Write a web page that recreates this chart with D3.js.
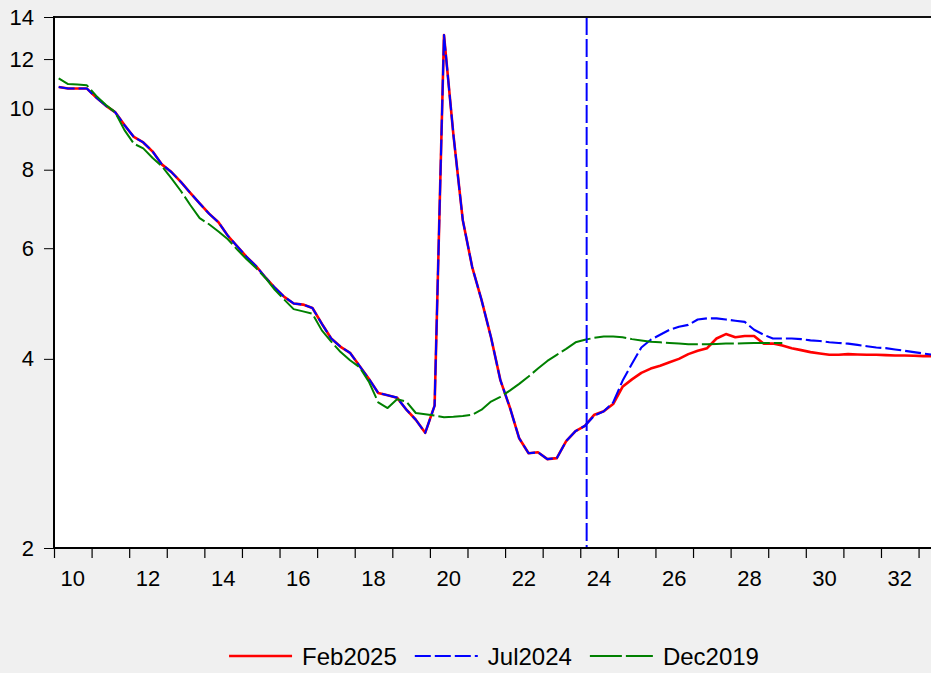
<!DOCTYPE html>
<html><head><meta charset="utf-8">
<script src="https://cdn.jsdelivr.net/npm/d3@7"></script>
<style>
html,body{margin:0;padding:0;background:#f0f0f0;}
svg{display:block;}
text{font-family: Arial, "Liberation Sans", sans-serif; fill:#000;}
</style></head><body>
<svg id="chart" width="931" height="673"></svg>
<script>
// ---------- DATA (quarterly, first observation 2010Q1) ----------
const startYear = 2010;
// common history through 2024Q1
const historyValues = [
  10.83, 10.77, 10.77, 10.77,
  10.42, 10.12, 9.88, 9.42,
  9.02, 8.84, 8.55, 8.15,
  7.93, 7.65, 7.35, 7.07,
  6.81, 6.60, 6.28, 6.04,
  5.81, 5.62, 5.39, 5.19,
  5.02, 4.90, 4.88, 4.82,
  4.55, 4.31, 4.18, 4.09,
  3.90, 3.72, 3.53, 3.50,
  3.47, 3.32, 3.20, 3.05,
  3.37, 13.1, 9.1, 6.65,
  5.60, 4.96, 4.33, 3.70,
  3.35, 2.99, 2.83, 2.84,
  2.77, 2.78, 2.96, 3.07,
  3.13
];
// from 2024Q2
const feb2025Forecast = [
  3.26, 3.30, 3.39,
  3.61, 3.71, 3.80, 3.86,
  3.90, 3.95, 4.00, 4.07,
  4.12, 4.16, 4.31, 4.38,
  4.33, 4.35, 4.35, 4.23,
  4.23, 4.20, 4.16, 4.13,
  4.10, 4.08, 4.06, 4.06,
  4.07, 4.065, 4.06, 4.06,
  4.055, 4.05, 4.05, 4.045,
  4.04, 4.04
];
const jul2024Forecast = [
  3.25, 3.30, 3.41,
  3.69, 3.93, 4.17, 4.29,
  4.37, 4.45, 4.50, 4.53,
  4.62, 4.64, 4.64, 4.62,
  4.60, 4.58, 4.45, 4.37,
  4.31, 4.31, 4.31, 4.30,
  4.28, 4.27, 4.25, 4.24,
  4.23, 4.21, 4.19, 4.17,
  4.16, 4.14, 4.12, 4.10,
  4.08, 4.06
];
// Dec2019 vintage, 2010Q1 .. 2029Q2
const dec2019 = [
  11.18, 10.95, 10.93, 10.90,
  10.48, 10.15, 9.88, 9.25,
  8.80, 8.65, 8.35, 8.10,
  7.75, 7.40, 7.03, 6.70,
  6.55, 6.38, 6.20, 5.97,
  5.76, 5.58, 5.38, 5.15,
  4.97, 4.80, 4.76, 4.72,
  4.44, 4.26, 4.10, 3.98,
  3.88, 3.68, 3.41, 3.34,
  3.45, 3.42, 3.28, 3.265,
  3.25, 3.23, 3.235, 3.245,
  3.26, 3.32, 3.42, 3.48,
  3.56, 3.65, 3.75, 3.86,
  3.97, 4.06, 4.15, 4.25,
  4.29, 4.32, 4.34, 4.34,
  4.33, 4.30, 4.28, 4.26,
  4.25, 4.24, 4.23, 4.22,
  4.22, 4.22, 4.225, 4.23,
  4.23, 4.235, 4.24, 4.24,
  4.24, 4.24
];
const feb2025 = historyValues.concat(feb2025Forecast);
const jul2024 = historyValues.concat(jul2024Forecast);
const seriesNames = ["Feb2025", "Jul2024", "Dec2019"];
const yTickValues = [2, 4, 6, 8, 10, 12, 14];
const xTickYears = d3.range(2010, 2035);
const xLabelYears = [2010, 2012, 2014, 2016, 2018, 2020, 2022, 2024, 2026, 2028, 2030, 2032];
const markerDate = 2024.17;

// ---------- LAYOUT ----------
const svg = d3.select("#chart");
const W = 931, H = 673;
const pLeft = 54, pTop = 17, pBottom = 548;
const yearPx = 37.59;
const pRight = pLeft + 24 * yearPx;

svg.append("rect").attr("width", W).attr("height", H).attr("fill", "#f0f0f0");
svg.append("rect").attr("x", pLeft).attr("y", pTop).attr("width", pRight - pLeft).attr("height", pBottom - pTop).attr("fill", "#fff");

const x = d3.scaleLinear().domain([2010, 2034]).range([pLeft, pRight]);
const y = d3.scaleLog().domain([2, 14]).range([pBottom, pTop]);
const tq = i => startYear + (i + 0.5) / 4;

svg.append("defs").append("clipPath").attr("id", "clip")
  .append("rect").attr("x", pLeft).attr("y", pTop).attr("width", pRight - pLeft).attr("height", pBottom - pTop);

const g = svg.append("g").attr("clip-path", "url(#clip)");
const line = d3.line().x((d, i) => x(tq(i))).y(d => y(d));

const styles = [
  {data: feb2025, color: "#ff0000", width: 2.6, dash: null},
  {data: jul2024, color: "#0000ff", width: 2.1, dash: "16,4"},
  {data: dec2019, color: "#008000", width: 2, dash: "32,4"}
];
styles.forEach(s => {
  g.append("path").datum(s.data).attr("d", line)
    .attr("fill", "none").attr("stroke", s.color).attr("stroke-width", s.width)
    .attr("stroke-dasharray", s.dash).attr("stroke-linejoin", "round");
});

// vertical marker line
const mx = x(markerDate);
g.append("line").attr("x1", mx).attr("x2", mx).attr("y1", pTop).attr("y2", pBottom)
  .attr("stroke", "#0000ff").attr("stroke-width", 2).attr("stroke-dasharray", "18,4");

// ---------- AXES ----------
const yAxis = d3.axisLeft(y).tickValues(yTickValues).tickSize(10).tickPadding(10).tickFormat(d3.format("d"));
const ya = svg.append("g").attr("transform", `translate(${pLeft},0)`).call(yAxis);
ya.select(".domain").remove();
ya.selectAll(".tick line").attr("stroke", "#000").attr("stroke-width", 1);
ya.selectAll("text").attr("font-size", 22).attr("font-family", "Arial, 'Liberation Sans', sans-serif").attr("fill", "#000");

const xAxis = d3.axisBottom(x).tickValues(xTickYears).tickSize(10).tickFormat("");
const xa = svg.append("g").attr("transform", `translate(0,${pBottom})`).call(xAxis);
xa.select(".domain").remove();
xa.selectAll(".tick line").attr("stroke", "#000").attr("stroke-width", 1.2);

svg.append("g").selectAll("text").data(xLabelYears).join("text")
  .attr("x", d => x(d + 0.5)).attr("y", 585.5)
  .attr("text-anchor", "middle").attr("font-size", 22)
  .text(d => String(d % 100).padStart(2, "0"));

// frame lines
svg.append("line").attr("x1", pLeft).attr("x2", pRight).attr("y1", pTop).attr("y2", pTop).attr("stroke", "#111").attr("stroke-width", 2);
svg.append("line").attr("x1", pLeft).attr("x2", pLeft).attr("y1", pTop - 1).attr("y2", pBottom + 1).attr("stroke", "#000").attr("stroke-width", 2);
svg.append("line").attr("x1", pLeft - 1).attr("x2", pRight).attr("y1", pBottom).attr("y2", pBottom).attr("stroke", "#000").attr("stroke-width", 2);

// ---------- LEGEND ----------
const lineLen = 63, gapText = 10, gapItem = 18, legY = 656;
const leg = svg.append("g");
const items = styles.map((s, i) => {
  const it = leg.append("g");
  it.append("line").attr("x1", 0).attr("x2", lineLen).attr("y1", 0).attr("y2", 0)
    .attr("stroke", s.color).attr("stroke-width", s.width).attr("stroke-dasharray", s.dash);
  const t = it.append("text").attr("x", lineLen + gapText).attr("y", 0).attr("dy", "0.36em")
    .attr("font-size", 24).text(seriesNames[i]);
  return {g: it, w: lineLen + gapText + t.node().getComputedTextLength()};
});
const total = d3.sum(items, d => d.w) + gapItem * (items.length - 1);
let cx = 494 - total / 2;
items.forEach(it => { it.g.attr("transform", `translate(${cx},${legY})`); cx += it.w + gapItem; });
</script>
</body></html>
